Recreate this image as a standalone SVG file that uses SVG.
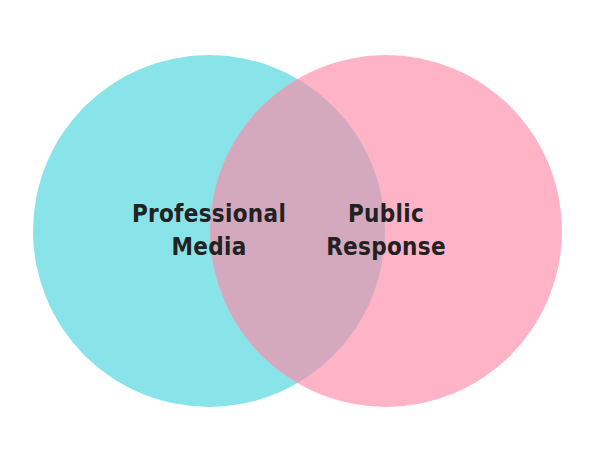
<svg xmlns="http://www.w3.org/2000/svg" width="596" height="451" viewBox="0 0 596 451">
<style>
.lbl{font-family:"DejaVu Sans Condensed","DejaVu Sans",sans-serif;font-weight:bold;font-size:24px;letter-spacing:0.3px;fill:#222222;text-anchor:middle}
</style>
<defs>
<clipPath id="clipL"><circle cx="209" cy="231" r="176"/></clipPath>
</defs>
<rect width="596" height="451" fill="#ffffff"/>
<g id="media">
<circle cx="209" cy="231" r="176" fill="#88E4E9"/>
</g>
<g id="public">
<circle cx="386" cy="231" r="176" fill="#FFB3C7"/>
</g>
<g id="overlap">
<circle cx="386" cy="231" r="176" fill="#D5A9BD" clip-path="url(#clipL)"/>
</g>
<g id="connectors"></g>
<g id="labels">
<text class="lbl" x="209" y="222">Professional</text>
<text class="lbl" x="209" y="255">Media</text>
<text class="lbl" x="386" y="222">Public</text>
<text class="lbl" x="386" y="255">Response</text>
</g>
</svg>
